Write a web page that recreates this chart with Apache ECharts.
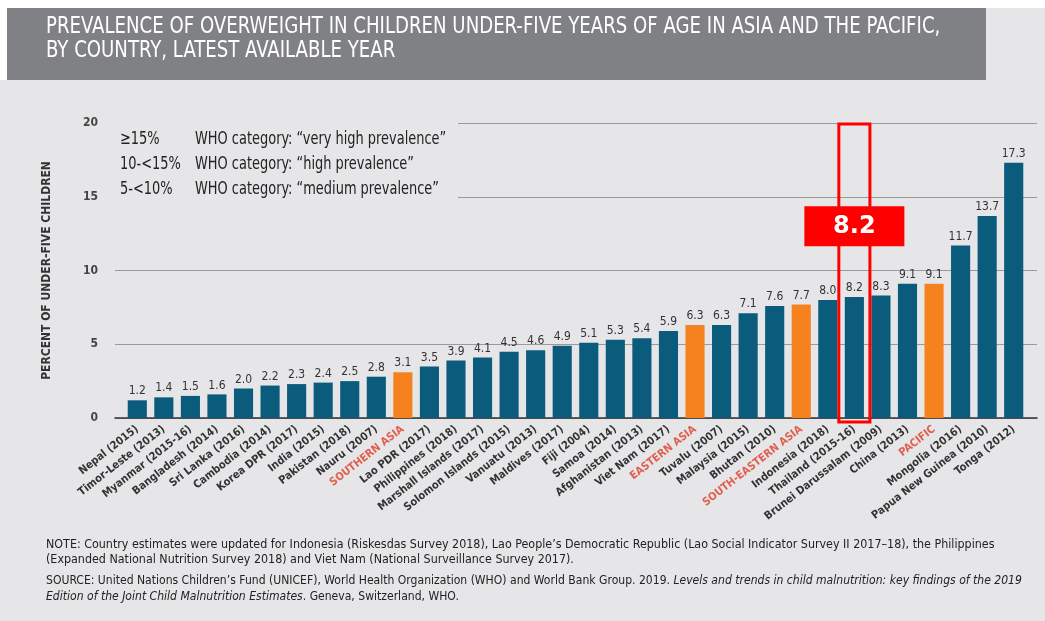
<!DOCTYPE html>
<html><head><meta charset="utf-8">
<script src="https://cdn.jsdelivr.net/npm/echarts@6/dist/echarts.min.js"></script>
<style>html,body{margin:0;padding:0;background:#e6e6e8;} #c{width:1045px;height:621px;}</style>
</head><body><div id="c"></div>
<script>
const categories = ['Nepal (2015)','Timor-Leste (2013)','Myanmar (2015-16)','Bangladesh (2014)','Sri Lanka (2016)','Cambodia (2014)','Korea DPR (2017)','India (2015)','Pakistan (2018)','Nauru (2007)','SOUTHERN ASIA','Lao PDR (2017)','Philippines (2018)','Marshall Islands (2017)','Solomon Islands (2015)','Vanuatu (2013)','Maldives (2017)','Fiji (2004)','Samoa (2014)','Afghanistan (2013)','Viet Nam (2017)','EASTERN ASIA','Tuvalu (2007)','Malaysia (2015)','Bhutan (2010)','SOUTH-EASTERN ASIA','Indonesia (2018)','Thailand (2015-16)','Brunei Darussalam (2009)','China (2013)','PACIFIC','Mongolia (2016)','Papua New Guinea (2010)','Tonga (2012)'];
const values = [1.2,1.4,1.5,1.6,2.0,2.2,2.3,2.4,2.5,2.8,3.1,3.5,3.9,4.1,4.5,4.6,4.9,5.1,5.3,5.4,5.9,6.3,6.3,7.1,7.6,7.7,8.0,8.2,8.3,9.1,9.1,11.7,13.7,17.3];
const regions = ['SOUTHERN ASIA','EASTERN ASIA','SOUTH-EASTERN ASIA','PACIFIC'];
const yTicks = [0,5,10,15,20];
const highlightCategory = 'Thailand (2015-16)';
const highlightBoxLevel = 13;
const legendRows = [
  ['\u226515%','WHO category: \u201cvery high prevalence\u201d'],
  ['10-<15%','WHO category: \u201chigh prevalence\u201d'],
  ['5-<10%','WHO category: \u201cmedium prevalence\u201d']
];
const titleLines = ['PREVALENCE OF OVERWEIGHT IN CHILDREN UNDER-FIVE YEARS OF AGE IN ASIA AND THE PACIFIC,','BY COUNTRY, LATEST AVAILABLE YEAR'];
const yAxisTitle = 'PERCENT OF UNDER-FIVE CHILDREN';

const NARROW = '"Liberation Sans Narrow","DejaVu Sans Condensed","Roboto Condensed",sans-serif';
const BLUE = '#0b5b7c', ORANGE = '#f5821f', RED = '#e0604f';

const chart = echarts.init(document.getElementById('c'));
const hiIdx = categories.indexOf(highlightCategory);

const graphics = [
  {type:'rect', shape:{x:0,y:0,width:1045,height:8}, style:{fill:'#ffffff'}, z:0},
  {type:'rect', shape:{x:0,y:0,width:7,height:80}, style:{fill:'#ffffff'}, z:0},
  {type:'rect', shape:{x:7,y:8,width:979,height:72}, style:{fill:'#808185'}, z:1},
  {type:'text', x:46, y:27, scaleX:0.876, z:2, style:{text:titleLines[0], fill:'#ffffff', font:'23px '+NARROW, verticalAlign:'middle'}},
  {type:'text', x:46, y:51, scaleX:0.876, z:2, style:{text:titleLines[1], fill:'#ffffff', font:'23px '+NARROW, verticalAlign:'middle'}},
  {type:'rect', shape:{x:113,y:117,width:345,height:86}, style:{fill:'#e6e6e8'}, z:10}
];
legendRows.forEach((r,i)=>{
  graphics.push({type:'text', x:120, y:139+i*25, z:11, scaleX:0.8, style:{text:r[0], fill:'#222', font:'18px '+NARROW, verticalAlign:'middle'}});
  graphics.push({type:'text', x:195, y:139+i*25, z:11, scaleX:0.8, style:{text:r[1], fill:'#222', font:'18px '+NARROW, verticalAlign:'middle'}});
});
graphics.push({type:'text', x:46, y:552, z:11, scaleX:0.99, style:{
  text:'NOTE: Country estimates were updated for Indonesia (Riskesdas Survey 2018), Lao People\u2019s Democratic Republic (Lao Social Indicator Survey II 2017\u201318), the Philippines\n(Expanded National Nutrition Survey 2018) and Viet Nam (National Surveillance Survey 2017).',
  fill:'#222', font:'12.5px '+NARROW, lineHeight:15, verticalAlign:'middle'}});
graphics.push({type:'text', x:46, y:589, z:11, scaleX:0.965, style:{
  text:'{n|SOURCE: United Nations Children\u2019s Fund (UNICEF), World Health Organization (WHO) and World Bank Group. 2019. }{i|Levels and trends in child malnutrition: key findings of the 2019}\n{i|Edition of the Joint Child Malnutrition Estimates}{n|. Geneva, Switzerland, WHO.}',
  rich:{n:{fill:'#222', font:'12.5px '+NARROW}, i:{fill:'#222', font:'italic 12.5px '+NARROW}},
  lineHeight:16, verticalAlign:'middle'}});

chart.setOption({
  backgroundColor:'#e6e6e8',
  animation:false,
  graphic: graphics,
  grid:[
    {left:115, right:8, top:123, bottom:203},
    {left:124, right:18, top:123, bottom:203}
  ],
  xAxis:[
    {gridIndex:0, type:'value', min:0, max:1, axisLine:{show:true, onZero:false, lineStyle:{color:'#333', width:1.5}}, axisTick:{show:false}, axisLabel:{show:false}, splitLine:{show:false}},
    {gridIndex:1, type:'category', data: categories.map(c=>({value:c, textStyle:{color: regions.includes(c)?RED:'#333'}})),
     axisLine:{show:false}, axisTick:{show:false},
     axisLabel:{interval:0, rotate:38, margin:10, fontFamily:NARROW, fontSize:11, fontWeight:'bold', color:'#333'}}
  ],
  yAxis:[
    {gridIndex:0, type:'value', min:0, max:20, interval:5, axisLine:{show:false}, axisTick:{show:false},
     axisLabel:{margin:17, fontFamily:NARROW, fontSize:12, fontWeight:'bold', color:'#444', formatter:v=>yTicks.includes(v)?String(v):''},
     splitLine:{lineStyle:{color:'#9a9a9c', width:1}},
     name:yAxisTitle, nameLocation:'middle', nameRotate:90, nameGap:62,
     nameTextStyle:{fontFamily:NARROW, fontSize:12, fontWeight:'bold', color:'#333'}},
    {gridIndex:1, type:'value', min:0, max:20, interval:5, show:false, splitLine:{show:false}}
  ],
  series:[
    {type:'bar', xAxisIndex:1, yAxisIndex:1, barCategoryGap:'28%', z:3,
     data: values.map((v,i)=>({value:v, itemStyle:{color: regions.includes(categories[i])?ORANGE:BLUE}})),
     label:{show:true, position:'top', distance:3, formatter:p=>p.value.toFixed(1), fontFamily:NARROW, fontSize:12, color:'#333'}},
    {type:'custom', xAxisIndex:1, yAxisIndex:1, z:20,
     data:[[hiIdx, values[hiIdx]]],
     renderItem:(params, api)=>{
       const base = api.coord([api.value(0), 0]);
       const top = api.coord([api.value(0), 20]);
       const bw = api.size([1,0])[0]*1.17;
       const box = api.coord([api.value(0), highlightBoxLevel]);
       return {type:'group', children:[
         {type:'rect', shape:{x:base[0]-bw/2, y:top[1]+1, width:bw, height:base[1]-top[1]+3}, style:{fill:'none', stroke:'#ff0000', lineWidth:3}},
         {type:'rect', shape:{x:box[0]-50, y:box[1]-20, width:100, height:40}, style:{fill:'#ff0000'}},
         {type:'text', style:{text: api.value(1).toFixed(1), x:box[0], y:box[1]+1, align:'center', verticalAlign:'middle', fill:'#ffffff', font:'bold 24px "DejaVu Sans",sans-serif'}}
       ]};
     }}
  ]
});
</script></body></html>
